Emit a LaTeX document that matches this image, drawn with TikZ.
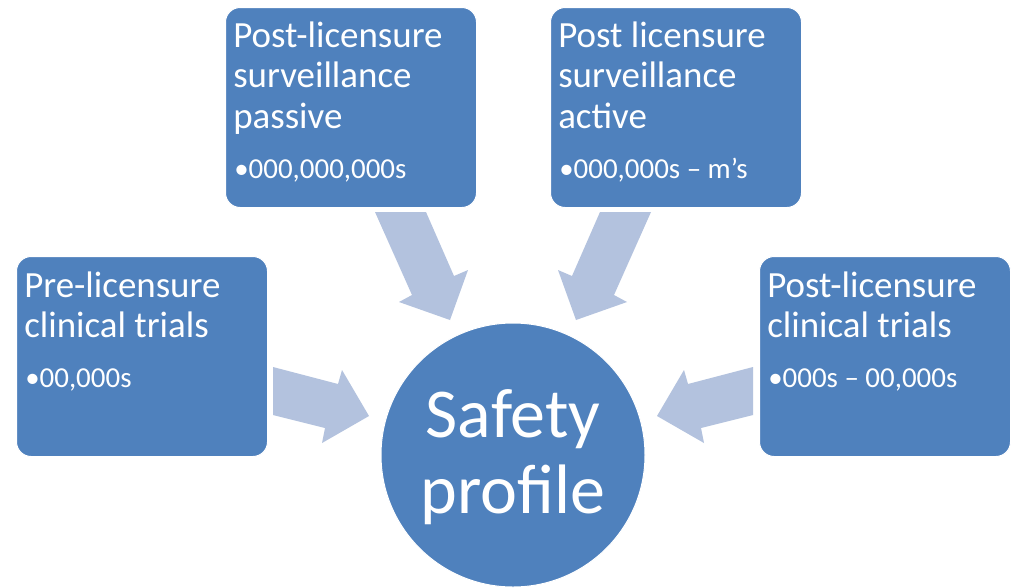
\documentclass[tikz,border=0pt]{standalone}
\usepackage{fontspec}
\setmainfont{Carlito}
\definecolor{boxblue}{HTML}{4F81BD}
\definecolor{arrowblue}{HTML}{B3C2DE}
\begin{document}
\begin{tikzpicture}[x=0.75pt,y=-0.75pt,
  box/.style={draw=white, line width=0.75pt, fill=boxblue, rounded corners=11pt,
    minimum width=188.25pt, minimum height=150pt, inner sep=0pt, anchor=north west},
  hub/.style={circle, draw=white, line width=0.75pt, fill=boxblue, minimum size=198pt, inner sep=0pt},
  title/.style={anchor=base west, inner sep=0pt, text=white, font=\fontsize{27.7}{30.5}\selectfont},
  bul/.style={anchor=base west, inner sep=0pt, text=white, font=\fontsize{21.7}{25}\selectfont},
  hubtext/.style={anchor=base, inner sep=0pt, text=white, font=\fontsize{52.5}{57}\selectfont},
  blockarrow/.style={fill=arrowblue}
]
\useasboundingbox[fill=white] (0,0) rectangle (1015,587);

% block arrows
\fill[blockarrow] (273,367) -- (338,384) -- (342,370) -- (369,416) -- (322,443) -- (325,428) -- (273,415) -- cycle;
\fill[blockarrow] (753,367) -- (688,384) -- (684,370) -- (657,416) -- (704,443) -- (701,428) -- (753,415) -- cycle;
\fill[blockarrow] (375,212) -- (426,212) -- (454,276) -- (468,270) -- (450,320) -- (399,302) -- (412,295) -- cycle;
\fill[blockarrow] (651,212) -- (600,212) -- (572,276) -- (558,270) -- (576,320) -- (627,302) -- (614,295) -- cycle;

% boxes
\node[box] (pre) at (16,256) {};
\node[box] (passive) at (225,7) {};
\node[box] (active) at (550,7) {};
\node[box] (post) at (759,256) {};
\node[hub] (safety) at (513,455) {};

% texts
\node[title] (pret) at (24,297) {\vtop{\hbox{Pre-licensure}\hbox{clinical trials}}};
\node[bul] (preb) at (25,387) {•00,000s};

\node[title] (passt) at (233,47) {\vtop{\hbox{Post-licensure}\hbox{surveillance}\hbox{passive}}};
\node[bul] (passb) at (234,178) {•000,000,000s};

\node[title] (actt) at (558,47) {\vtop{\hbox{Post licensure}\hbox{surveillance}\hbox{active}}};
\node[bul] (actb) at (559,178) {•000,000s – m’s};

\node[title] (postt) at (767,297) {\vtop{\hbox{Post-licensure}\hbox{clinical trials}}};
\node[bul] (postb) at (768,387) {•000s – 00,000s};

\node[hubtext] (s1) at (513,437) {Safety};
\node[hubtext] (s2) at (513,513) {profile};
\end{tikzpicture}
\end{document}
